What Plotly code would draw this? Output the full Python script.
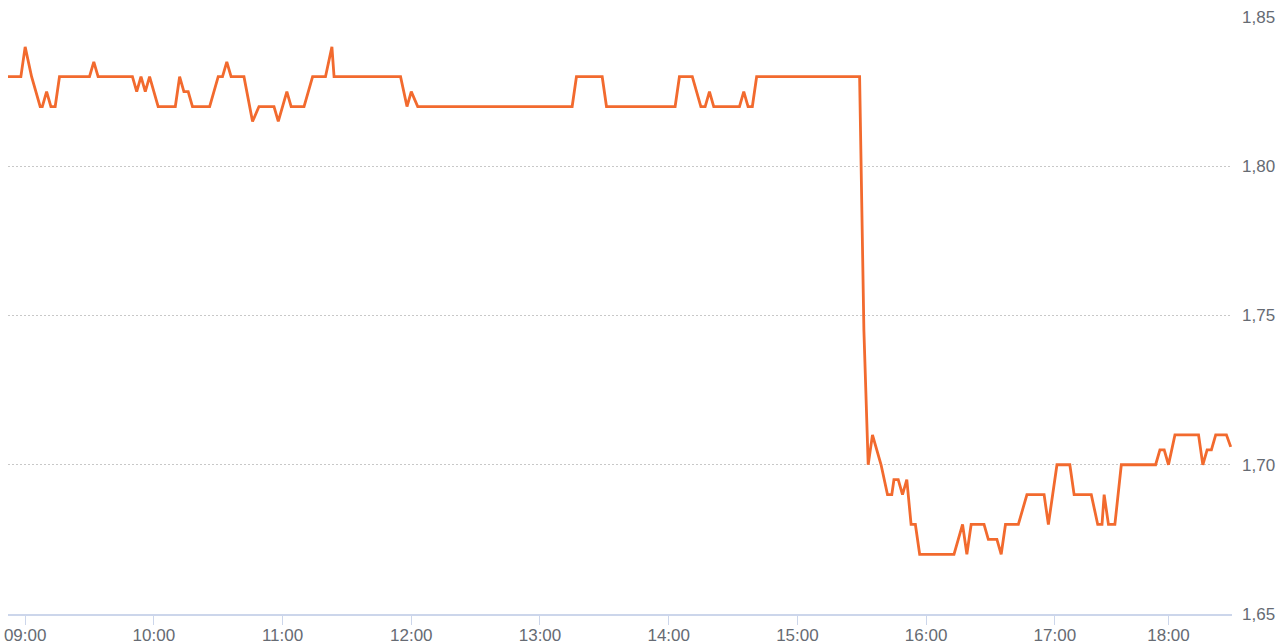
import plotly.graph_objects as go

DAY = "2024-01-02 "

times = [
    "08:52", "08:58", "09:00", "09:03", "09:07", "09:08", "09:10", "09:12", "09:14", "09:16",
    "09:30", "09:32", "09:34", "09:50", "09:52", "09:54", "09:56", "09:58", "10:02", "10:10",
    "10:12", "10:14", "10:16", "10:18", "10:26", "10:30", "10:32", "10:34", "10:36", "10:42",
    "10:46", "10:49", "10:56", "10:58", "11:02", "11:04", "11:10", "11:14", "11:20", "11:23",
    "11:24", "11:55", "11:58", "12:00", "12:03", "13:15", "13:17", "13:29", "13:31", "14:03",
    "14:05", "14:11", "14:15", "14:17", "14:19", "14:21", "14:33", "14:35", "14:37", "14:39",
    "14:41", "15:29", "15:31", "15:33", "15:35", "15:39", "15:42", "15:44", "15:45", "15:47",
    "15:49", "15:51", "15:53", "15:55", "15:57", "16:13", "16:17", "16:19", "16:21", "16:27",
    "16:29", "16:33", "16:35", "16:37", "16:43", "16:47", "16:55", "16:57", "17:01", "17:07",
    "17:09", "17:17", "17:20", "17:22", "17:23", "17:25", "17:28", "17:31", "17:54", "17:56",
    "17:58", "18:00", "18:03", "18:14", "18:16", "18:18", "18:20", "18:22", "18:27", "18:29",
]

prices = [
    1.83, 1.83, 1.84, 1.83, 1.82, 1.82, 1.825, 1.82, 1.82, 1.83,
    1.83, 1.835, 1.83, 1.83, 1.825, 1.83, 1.825, 1.83, 1.82, 1.82,
    1.83, 1.825, 1.825, 1.82, 1.82, 1.83, 1.83, 1.835, 1.83, 1.83,
    1.815, 1.82, 1.82, 1.815, 1.825, 1.82, 1.82, 1.83, 1.83, 1.84,
    1.83, 1.83, 1.82, 1.825, 1.82, 1.82, 1.83, 1.83, 1.82, 1.82,
    1.83, 1.83, 1.82, 1.82, 1.825, 1.82, 1.82, 1.825, 1.82, 1.82,
    1.83, 1.83, 1.745, 1.70, 1.71, 1.70, 1.69, 1.69, 1.695, 1.695,
    1.69, 1.695, 1.68, 1.68, 1.67, 1.67, 1.68, 1.67, 1.68, 1.68,
    1.675, 1.675, 1.67, 1.68, 1.68, 1.69, 1.69, 1.68, 1.70, 1.70,
    1.69, 1.69, 1.68, 1.68, 1.69, 1.68, 1.68, 1.70, 1.70, 1.705,
    1.705, 1.70, 1.71, 1.71, 1.70, 1.705, 1.705, 1.71, 1.71, 1.706,
]

y_ticks = [1.65, 1.70, 1.75, 1.80, 1.85]
x_start = "08:52:00"
x_end = "18:29:36"
gap_start = "17:40:00"   # session gap (ordinal axis compression)
gap_minutes = 7

LINE_COLOR = "#f26a2e"
LABEL_COLOR = "#666b73"
AXIS_COLOR = "#ccd6eb"

fig = go.Figure()
fig.add_trace(go.Scatter(
    x=[DAY + t for t in times],
    y=prices,
    mode="lines",
    line=dict(color=LINE_COLOR, width=2.8),
    hoverinfo="skip",
))

fig.update_layout(
    width=1283, height=642,
    margin=dict(l=8, r=51, t=17, b=28, autoexpand=False),
    paper_bgcolor="white", plot_bgcolor="white",
    showlegend=False,
    separators=",.",
    font=dict(family="Liberation Sans, Arial, sans-serif", size=17, color=LABEL_COLOR),
)

fig.update_xaxes(
    type="date",
    automargin=False,
    range=[DAY + x_start, DAY + x_end],
    rangebreaks=[dict(values=[DAY + gap_start], dvalue=gap_minutes * 60 * 1000)],
    tickformat="%H:%M",
    dtick=3600000,
    tick0=DAY + "09:00",
    showgrid=False,
    showline=True, linecolor=AXIS_COLOR, linewidth=1.5,
    ticks="outside", ticklen=9, tickcolor=AXIS_COLOR, tickwidth=1,
    ticklabelstandoff=-4,
    tickfont=dict(size=17, color=LABEL_COLOR),
    zeroline=False,
)

fig.update_yaxes(
    automargin=False,
    range=[y_ticks[0], y_ticks[-1]],
    tickvals=y_ticks,
    tickformat=".2f",
    side="right",
    showgrid=True, gridcolor="#c8c8c8", gridwidth=1, griddash="2px,2px",
    showline=False, zeroline=False,
    ticks="", ticklabelstandoff=9,
    tickfont=dict(size=17, color=LABEL_COLOR),
)

fig.write_html(
    "out.html",
    config={"displayModeBar": False},
    post_script="document.body.style.margin='0';document.body.style.padding='0';document.body.style.overflow='hidden';",
)
